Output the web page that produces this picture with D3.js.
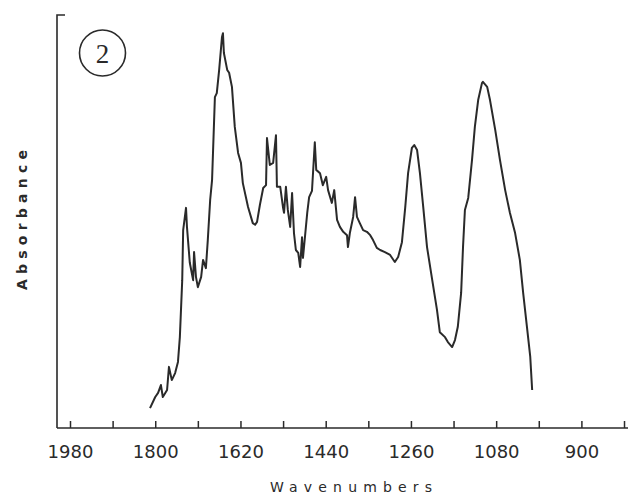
<!DOCTYPE html>
<html>
<head>
<meta charset="utf-8">
<script src="https://cdn.jsdelivr.net/npm/d3@7/dist/d3.min.js"></script>
<style>
  html, body { margin: 0; padding: 0; background: #fff; }
  svg { display: block; }
</style>
</head>
<body>
<svg id="chart" width="628" height="497"></svg>
<script>
// ---- data ----
const wavenumbers = [1811,1800,1794,1788,1784,1775,1771,1765,1758,1752,1748,1743,1741,1735,1733,1727,1720,1718,1714,1710,1703,1699,1693,1689,1684,1680,1674,1670,1665,1659,1657,1655,1648,1644,1638,1632,1625,1619,1615,1604,1594,1589,1585,1579,1572,1566,1564,1558,1551,1545,1543,1536,1530,1528,1524,1520,1515,1511,1507,1503,1498,1494,1490,1488,1479,1475,1469,1463,1460,1452,1446,1439,1435,1427,1422,1416,1410,1403,1395,1393,1389,1382,1378,1374,1368,1361,1353,1346,1340,1332,1325,1315,1304,1294,1287,1279,1272,1266,1258,1253,1247,1241,1234,1226,1215,1205,1199,1188,1182,1173,1167,1161,1154,1150,1146,1139,1131,1125,1118,1110,1108,1099,1093,1082,1072,1061,1051,1040,1030,1023,1015,1008,1004];
const absorbance = [4.8,7.5,8.5,10.4,7.5,9.2,14.8,11.6,13.3,16.0,22.0,35.8,47.9,53.3,48.7,40.0,35.8,42.6,36.6,34.1,36.6,40.7,38.7,45.5,55.2,60.0,80.1,81.1,86.7,94.7,95.6,90.8,86.7,86.0,82.6,72.9,66.6,64.2,59.3,53.5,49.6,49.2,49.9,54.0,58.1,58.8,70.2,63.7,64.2,70.9,58.4,58.4,53.3,52.1,58.4,52.8,48.7,56.9,47.2,43.1,42.4,39.0,46.2,41.2,52.1,55.9,57.4,69.2,62.5,61.7,58.8,60.8,57.6,54.5,57.6,50.4,48.7,47.5,46.7,43.8,47.2,51.1,55.9,51.1,49.6,47.9,47.5,46.7,45.5,43.6,43.1,42.6,41.9,40.2,41.4,45.0,53.5,61.7,67.8,68.5,67.3,61.7,53.5,43.8,35.8,28.6,23.2,22.0,20.8,19.6,21.3,24.5,32.7,43.8,52.8,55.7,64.9,72.9,79.4,83.5,83.8,82.6,79.4,72.2,64.9,57.6,52.1,47.2,40.7,32.7,24.5,17.2,9.2];
const tickValues = [1980,1890,1800,1710,1620,1530,1440,1350,1260,1170,1080,990,900,810];
const tickLabels = ["1980","","1800","","1620","","1440","","1260","","1080","","900",""];
const xTitle = "Wavenumbers";
const yTitle = "Absorbance";
const panelLabel = "2";

// ---- layout ----
const svg = d3.select("#chart");
const ink = "#2a2a2a";
const axisX0 = 57, axisX1 = 628, axisY = 428, axisTop = 15;

const x = d3.scaleLinear().domain([1980, 900]).range([70, 581.4]);
const y = d3.scaleLinear().domain([0, 100]).range([axisY, axisTop]);

// bottom axis
const xAxis = d3.axisBottom(x)
  .tickValues(tickValues)
  .tickSize(-7)
  .tickPadding(0)
  .tickFormat((d, i) => tickLabels[i]);
const gx = svg.append("g").attr("transform", `translate(0,${axisY})`).call(xAxis);
gx.select(".domain").remove();
gx.selectAll(".tick line").attr("stroke", ink).attr("stroke-width", 1.5);
gx.selectAll(".tick text")
  .attr("y", 30)
  .attr("dy", 0)
  .attr("fill", ink)
  .style("font-family", "'DejaVu Sans', sans-serif")
  .style("font-size", "18px")
  .style("font-weight", "normal");

svg.append("line")
  .attr("x1", axisX0).attr("x2", axisX1)
  .attr("y1", axisY).attr("y2", axisY)
  .attr("stroke", ink).attr("stroke-width", 1.6);

// left axis with top bracket
svg.append("path")
  .attr("d", d3.line()([[axisX0 + 8, axisTop], [axisX0, axisTop], [axisX0, axisY]]))
  .attr("fill", "none").attr("stroke", ink).attr("stroke-width", 1.6);

// spectrum
const pts = wavenumbers.map((w, i) => [w, absorbance[i]]);
svg.append("path")
  .datum(pts)
  .attr("fill", "none")
  .attr("stroke", ink)
  .attr("stroke-width", 2)
  .attr("stroke-linejoin", "round")
  .attr("d", d3.line().x(d => x(d[0])).y(d => y(d[1])));

// titles
svg.append("text")
  .attr("x", 270).attr("y", 492)
  .attr("textLength", 162).attr("lengthAdjust", "spacing")
  .attr("fill", ink)
  .style("font-family", "'DejaVu Sans', sans-serif")
  .style("font-size", "14px")
  .text(xTitle);

svg.append("text")
  .attr("transform", "translate(27,290) rotate(-90)")
  .attr("textLength", 140).attr("lengthAdjust", "spacing")
  .attr("fill", ink)
  .style("font-family", "'DejaVu Sans', sans-serif")
  .style("font-size", "14px")
  .style("font-weight", "bold")
  .text(yTitle);

// panel label
svg.append("circle")
  .attr("cx", 102.5).attr("cy", 53).attr("r", 23)
  .attr("fill", "none").attr("stroke", ink).attr("stroke-width", 1.6);
svg.append("text")
  .attr("x", 102.5).attr("y", 63)
  .attr("text-anchor", "middle")
  .attr("fill", ink)
  .style("font-family", "'Liberation Serif', serif")
  .style("font-size", "27px")
  .text(panelLabel);
</script>
</body>
</html>
